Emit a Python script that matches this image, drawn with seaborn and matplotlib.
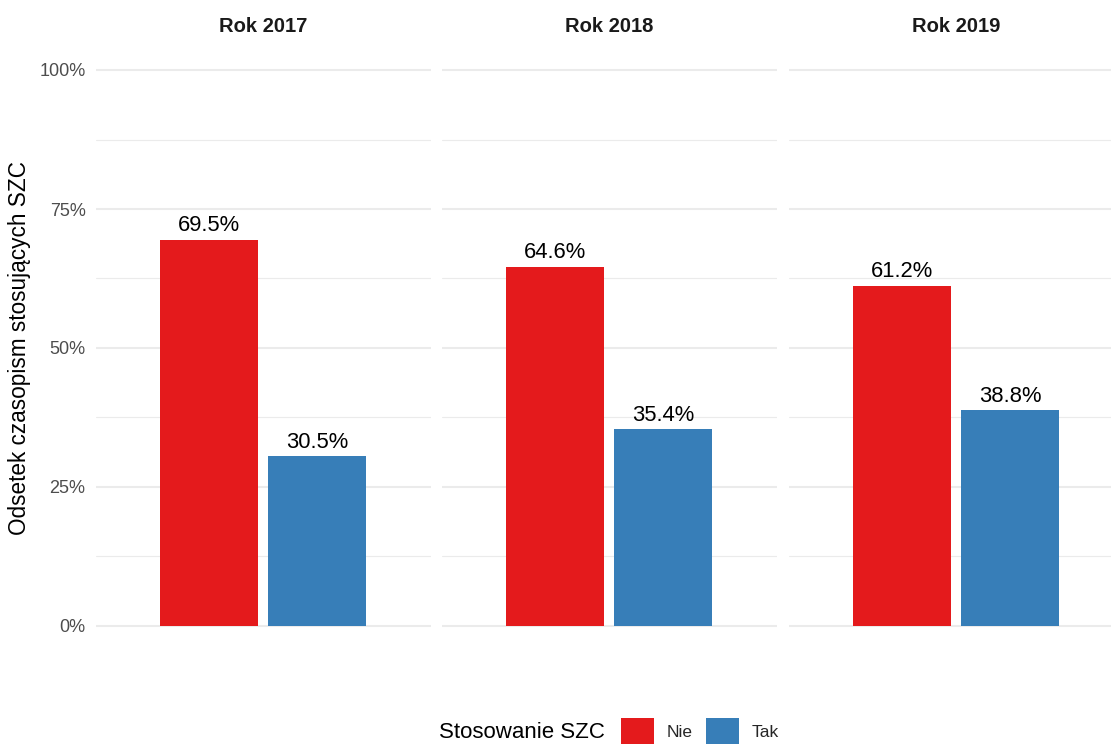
import matplotlib
matplotlib.use("Agg")
import matplotlib.pyplot as plt
from matplotlib.patches import Patch
from matplotlib.ticker import FixedLocator
import seaborn as sns
import pandas as pd

years = ["Rok 2017", "Rok 2018", "Rok 2019"]
categories = ["Nie", "Tak"]
nie_values = [69.5, 64.6, 61.2]
tak_values = [30.5, 35.4, 38.8]
y_ticks = [0, 25, 50, 75, 100]
y_tick_labels = ["0%", "25%", "50%", "75%", "100%"]
palette = {"Nie": "#E41A1C", "Tak": "#377EB8"}

sns.set_theme(style="white")
plt.rcParams["font.family"] = ["Liberation Sans", "DejaVu Sans"]

W, H = 1111, 744
fig = plt.figure(figsize=(W / 100, H / 100), dpi=100)

rows = []
for y, n, t in zip(years, nie_values, tak_values):
    rows.append({"year": y, "cat": "Nie", "val": n})
    rows.append({"year": y, "cat": "Tak", "val": t})
df = pd.DataFrame(rows)

panel_lefts = [96, 442, 789]
panel_w = 335
ax_bottom = 1 - 653.8 / H
ax_h = (653.8 - 42.2) / H

for i, (year, left) in enumerate(zip(years, panel_lefts)):
    ax = fig.add_axes([left / W, ax_bottom, panel_w / W, ax_h])
    sub = df[df["year"] == year]
    sns.barplot(data=sub, x="cat", y="val", hue="cat", order=categories,
                hue_order=categories, palette=palette, width=0.907,
                legend=False, ax=ax, zorder=3, saturation=1, linewidth=0,
                edgecolor="none")
    ax.set_xlim(-1.046, 2.056)
    ax.set_ylim(-5, 105)
    ax.yaxis.set_major_locator(FixedLocator(y_ticks))
    ax.yaxis.set_minor_locator(FixedLocator([12.5, 37.5, 62.5, 87.5]))
    ax.grid(False)
    ax.grid(axis="y", which="major", color="#EBEBEB", linewidth=1.5, zorder=0)
    ax.grid(axis="y", which="minor", color="#EBEBEB", linewidth=0.8, zorder=0)
    ax.set_axisbelow(True)
    for s in ax.spines.values():
        s.set_visible(False)
    ax.set_xticks([])
    ax.set_xlabel("")
    ax.set_ylabel("")
    ax.tick_params(axis="y", which="both", length=0)
    if i == 0:
        ax.set_yticklabels(y_tick_labels, fontsize=13, color="#4D4D4D")
        ax.tick_params(axis="y", pad=7.5)
    else:
        ax.set_yticklabels([])
    for c in ax.containers:
        for bar in c:
            h = bar.get_height()
            ax.annotate(f"{h:.1f}%", (bar.get_x() + bar.get_width() / 2, h),
                        xytext=(0, 6.2), textcoords="offset points",
                        ha="center", va="baseline", fontsize=15.8, color="black")
    fig.text((left + panel_w / 2) / W, 1 - 32 / H, year, ha="center",
             va="baseline", fontsize=14.5, fontweight="bold", color="#1A1A1A")

fig.text(20 / W, 1 - 348 / H, "Odsetek czasopism stosujących SZC",
         rotation=90, ha="center", va="center", fontsize=16.3, color="black")

fig.text(439 / W, 1 - 738 / H, "Stosowanie SZC", ha="left", va="baseline",
         fontsize=16, color="black")
handles = [Patch(facecolor=palette[c], edgecolor="none", label=c) for c in categories]
fig.legend(handles=handles, loc="center left", bbox_to_anchor=(621 / W, 1 - 731 / H),
           ncol=2, frameon=False, fontsize=12.5, handlelength=1.9, handleheight=1.9,
           handletextpad=0.75, columnspacing=0.75, borderpad=0, borderaxespad=0)

fig.savefig("out.png", dpi=100)
